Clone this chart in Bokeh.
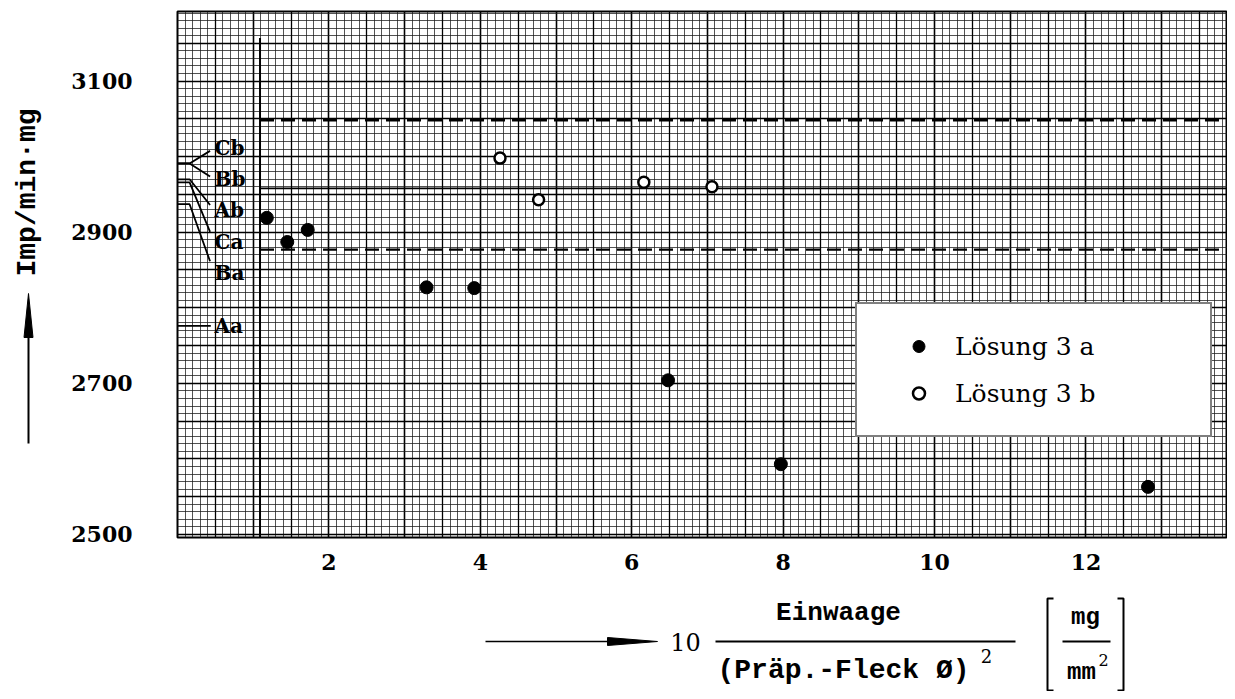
import numpy as np
from math import pi
from bokeh.plotting import figure
from bokeh.layouts import column, row
from bokeh.models import Range1d, FixedTicker, Grid, Legend, LegendItem
from bokeh.core.properties import value
from bokeh.embed import file_html
from bokeh.resources import INLINE

# ---------------- data ----------------
loesung_a_x = [1.18, 1.45, 1.72, 3.29, 3.92, 6.48, 7.97, 12.82]
loesung_a_y = [2919, 2887, 2903, 2827, 2826, 2704, 2593, 2563]
loesung_b_x = [4.26, 4.77, 6.16, 7.06]
loesung_b_y = [2998, 2943, 2966, 2960]
band_mean = 2958
band_upper = 3048
band_lower = 2877
band_start = 1.09
ref_names = ["Cb", "Bb", "Ab", "Ca", "Ba", "Aa"]
ref_levels = [2991, 2991, 2970, 2966, 2937, 2776]
ref_label_y = [3011, 2970, 2929, 2887, 2846, 2776]
x_tick_values = [2, 4, 6, 8, 10, 12]
y_tick_values = [2500, 2700, 2900, 3100]

X0, X1 = 0.0, 13.87
Y0, Y1 = 2496, 3192

SERIF = "DejaVu Serif"
MONO = "Liberation Mono"

# ---------------- main chart ----------------
p = figure(width=1169, height=585, x_range=Range1d(X0, X1), y_range=Range1d(Y0, Y1),
           output_backend="svg", toolbar_location=None,
           min_border_left=119, min_border_right=0, min_border_top=11, min_border_bottom=48)
p.background_fill_color = "white"
p.border_fill_color = "white"
p.outline_line_color = "black"
p.outline_line_width = 2

# graph paper grid
xg = p.xgrid[0]
xg.ticker = FixedTicker(ticks=np.arange(0, 14, 1.0).tolist(),
                        minor_ticks=np.round(np.arange(0, 13.9, 0.1), 2).tolist())
yg = p.ygrid[0]
yg.ticker = FixedTicker(ticks=np.arange(2500, 3200, 100).tolist(),
                        minor_ticks=np.arange(2500, 3200, 10).tolist())
for g in (xg, yg):
    g.grid_line_color = "black"
    g.grid_line_width = 1.6
    g.grid_line_alpha = 1.0
    g.minor_grid_line_color = "#1a1a1a"
    g.minor_grid_line_alpha = 0.75
    g.minor_grid_line_width = 1
p.add_layout(Grid(dimension=0, ticker=FixedTicker(ticks=np.arange(0.5, 14, 1.0).tolist()),
                  grid_line_color="#000000", grid_line_width=1.3))
p.add_layout(Grid(dimension=1, ticker=FixedTicker(ticks=np.arange(2550, 3200, 100).tolist()),
                  grid_line_color="#000000", grid_line_width=1.3))

# axes (tick labels only)
p.xaxis.ticker = FixedTicker(ticks=x_tick_values)
p.yaxis.ticker = FixedTicker(ticks=y_tick_values)
for ax in (p.xaxis[0], p.yaxis[0]):
    ax.axis_line_color = None
    ax.major_tick_line_color = None
    ax.minor_tick_line_color = None
    ax.major_tick_in = 0
    ax.major_tick_out = 0
    ax.minor_tick_in = 0
    ax.minor_tick_out = 0
    ax.major_label_text_font = SERIF
    ax.major_label_text_font_style = "bold"
    ax.major_label_text_font_size = "22px"
    ax.major_label_text_color = "black"
p.xaxis.major_label_standoff = 16
p.yaxis.major_label_standoff = 45

# mean and band lines
p.line([band_start, X1], [band_upper, band_upper], line_color="black", line_width=2.5, line_dash="14 7")
p.line([band_start, X1], [band_mean, band_mean], line_color="black", line_width=1.8)
p.line([band_start, X1], [band_lower, band_lower], line_color="black", line_width=2.3, line_dash="14 7")
p.line([band_start, band_start], [Y0, 3157], line_color="black", line_width=2)

# reference markers on the left edge
lead_xs, lead_ys = [], []
for name, lvl, ly in zip(ref_names, ref_levels, ref_label_y):
    if name == "Aa":
        lead_xs.append([X0, 0.44])
        lead_ys.append([lvl, lvl])
    else:
        end_y = ly + (lvl - ly) * 0.17
        lead_xs.append([X0, 0.16, 0.43])
        lead_ys.append([lvl, lvl, end_y])
p.multi_line(lead_xs, lead_ys, line_color="black", line_width=1.8)
p.text(x=[0.49] * len(ref_names), y=ref_label_y, text=ref_names,
       text_align="left", text_baseline="middle", text_font=value(SERIF),
       text_font_style="bold", text_font_size="20px", text_color="black")

# data points
ra = p.scatter(loesung_a_x, loesung_a_y, size=13, fill_color="black", line_color="black")
rb = p.scatter(loesung_b_x, loesung_b_y, size=11, fill_color="white", line_color="black", line_width=2.5)

legend = Legend(items=[LegendItem(label="Lösung 3 a", renderers=[ra]),
                       LegendItem(label="Lösung 3 b", renderers=[rb])],
                location=(678, 100), margin=0, padding=27, spacing=17,
                glyph_width=69, glyph_height=30, label_height=30, label_width=228,
                label_standoff=2, label_text_font=SERIF, label_text_font_size="25px",
                label_text_color="black",
                border_line_color="black", border_line_width=2,
                background_fill_color="white", background_fill_alpha=1.0)
p.add_layout(legend)

# ---------------- y label strip (frame aligned with the chart frame: page y 11..537) ----------------
py = figure(width=58, height=585, x_range=Range1d(0, 58), y_range=Range1d(537, 11),
            output_backend="svg", toolbar_location=None, x_axis_type=None, y_axis_type=None,
            min_border=0)
py.outline_line_color = None
py.text(x=[27], y=[192], text=["Imp/min·mg"], angle=pi / 2, text_align="center",
        text_baseline="middle", text_font=value(MONO), text_font_style="bold",
        text_font_size="28px", text_color="black")
py.line([28, 28], [443, 330], line_color="black", line_width=2)
py.patch([28, 23.5, 32.5], [293, 337, 337], color="black")

# ---------------- x label strip ----------------
px = figure(width=1227, height=106, x_range=Range1d(0, 1227), y_range=Range1d(691, 585),
            output_backend="svg", toolbar_location=None, x_axis_type=None, y_axis_type=None,
            min_border=0)
px.outline_line_color = None
px.line([485, 612], [641, 641], line_color="black", line_width=1.5)
px.patch([607, 657, 607], [637, 641, 645], color="black")
px.text(x=[685], y=[641], text=["10"], text_align="center", text_baseline="middle",
        text_font=value(SERIF), text_font_size="24px", text_color="black")
px.text(x=[838], y=[612], text=["Einwaage"], text_align="center", text_baseline="middle",
        text_font=value(MONO), text_font_style="bold", text_font_size="26px", text_color="black")
px.line([715, 1015], [641, 641], line_color="black", line_width=2)
px.text(x=[717], y=[670], text=["(Präp.-Fleck Ø)"], text_align="left", text_baseline="middle",
        text_font=value(MONO), text_font_style="bold", text_font_size="28px", text_color="black")
px.text(x=[986], y=[655], text=["2"], text_align="center", text_baseline="middle",
        text_font=value(SERIF), text_font_size="18px", text_color="black")
# unit bracket
px.line([1053, 1047, 1047, 1053], [598, 598, 690, 690], line_color="black", line_width=2)
px.line([1117, 1123, 1123, 1117], [598, 598, 690, 690], line_color="black", line_width=2)
px.text(x=[1085], y=[617], text=["mg"], text_align="center", text_baseline="middle",
        text_font=value(MONO), text_font_style="bold", text_font_size="24px", text_color="black")
px.line([1062, 1110], [641, 641], line_color="black", line_width=2)
px.text(x=[1081], y=[672], text=["mm"], text_align="center", text_baseline="middle",
        text_font=value(MONO), text_font_style="bold", text_font_size="24px", text_color="black")
px.text(x=[1103], y=[659], text=["2"], text_align="center", text_baseline="middle",
        text_font=value(SERIF), text_font_size="16px", text_color="black")

layout = column(row(py, p, spacing=0), px, spacing=0)
open("out.html", "w").write(file_html(layout, INLINE))
